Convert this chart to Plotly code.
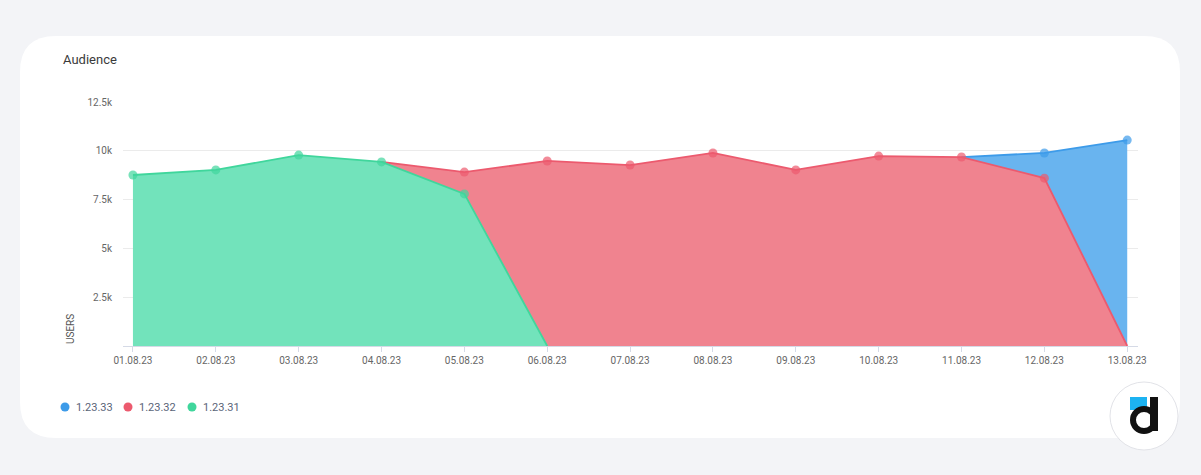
import plotly.graph_objects as go

dates = ["01.08.23", "02.08.23", "03.08.23", "04.08.23", "05.08.23", "06.08.23", "07.08.23",
         "08.08.23", "09.08.23", "10.08.23", "11.08.23", "12.08.23", "13.08.23"]
v1_23_33 = [None, None, None, None, None, None, None, None, None, None, 9680, 9890, 10550]
v1_23_32 = [None, None, None, 9430, 8910, 9480, 9270, 9890, 9020, 9730, 9680, 8600, 0]
v1_23_31 = [8760, 9020, 9780, 9430, 7790, 0, None, None, None, None, None, None, None]
series_names = ["1.23.33", "1.23.32", "1.23.31"]
y_tickvals = [2500, 5000, 7500, 10000, 12500]
y_ticktext = ["2.5k", "5k", "7.5k", "10k", "12.5k"]

W, H = 1201, 475
L, R, T, B = 123, 63, 102, 129
PW, PH = W - L - R, H - T - B


def px(x):
    return (x - L) / PW


def py(y):
    return (H - B - y) / PH


series = [
    (series_names[0], v1_23_33, "#3d9be9", "#69b4ef"),
    (series_names[1], v1_23_32, "#ec5a6e", "#f0838f"),
    (series_names[2], v1_23_31, "#40d69c", "#72e3bb"),
]

fig = go.Figure()
for i, (name, vals, lc, fc) in enumerate(series):
    later = [s[1] for s in series[i + 1:]]
    sizes = []
    for j, v in enumerate(vals):
        covered = any(lv[j] is not None and lv[j] == v for lv in later)
        sizes.append(0 if (v == 0 or covered) else 9)
    fig.add_trace(go.Scatter(
        x=dates, y=vals, name=name, mode="lines+markers",
        line=dict(color=lc, width=1.8), fill="tozeroy", fillcolor=fc,
        marker=dict(color=lc, size=sizes, line=dict(width=0)), connectgaps=False,
        showlegend=False, hoverinfo="skip",
    ))

shapes = []
# card with rounded corners
cx0, cy0, cx1, cy1, r = 20, 36, 1180, 438, 36
path = (f"M {px(cx0 + r)},{py(cy0)} L {px(cx1 - r)},{py(cy0)} "
        f"Q {px(cx1)},{py(cy0)} {px(cx1)},{py(cy0 + r)} "
        f"L {px(cx1)},{py(cy1 - r)} Q {px(cx1)},{py(cy1)} {px(cx1 - r)},{py(cy1)} "
        f"L {px(cx0 + r)},{py(cy1)} Q {px(cx0)},{py(cy1)} {px(cx0)},{py(cy1 - r)} "
        f"L {px(cx0)},{py(cy0 + r)} Q {px(cx0)},{py(cy0)} {px(cx0 + r)},{py(cy0)} Z")
shapes.append(dict(type="path", path=path, xref="paper", yref="paper",
                   fillcolor="#ffffff", line=dict(width=0), layer="below"))

# legend circles
leg_x = [65, 128, 192]
for (name, vals, lc, fc), lx in zip(series, leg_x):
    shapes.append(dict(type="circle", xref="paper", yref="paper",
                       xsizemode="pixel", ysizemode="pixel",
                       xanchor=px(lx), yanchor=py(407),
                       x0=-4.5, x1=4.5, y0=-4.5, y1=4.5,
                       fillcolor=lc, line=dict(width=0)))

# logo
shapes.append(dict(type="circle", xref="paper", yref="paper",
                   xsizemode="pixel", ysizemode="pixel",
                   xanchor=px(1144), yanchor=py(416),
                   x0=-34, x1=34, y0=-34, y1=34,
                   fillcolor="#ffffff", line=dict(width=1, color="#e2e3e8")))
shapes.append(dict(type="rect", xref="paper", yref="paper",
                   x0=px(1130), x1=px(1147), y0=py(410), y1=py(397),
                   fillcolor="#1db3f2", line=dict(width=0)))
shapes.append(dict(type="circle", xref="paper", yref="paper",
                   xsizemode="pixel", ysizemode="pixel",
                   xanchor=px(1144), yanchor=py(420),
                   x0=-11, x1=11, y0=-11, y1=11,
                   fillcolor="#ffffff", line=dict(width=6, color="#111111")))
shapes.append(dict(type="rect", xref="paper", yref="paper",
                   x0=px(1150), x1=px(1158), y0=py(431), y1=py(397),
                   fillcolor="#111111", line=dict(width=0)))

annotations = [
    dict(text="Audience", x=px(61), y=py(60), xref="paper", yref="paper",
         xanchor="left", yanchor="middle", showarrow=False,
         font=dict(size=13, color="#3a3a3a")),
    dict(text="USERS", x=px(70), y=py(346), xref="paper", yref="paper",
         xanchor="center", yanchor="bottom", textangle=-90, showarrow=False,
         font=dict(size=10, color="#555555")),
]
for name, lx in zip(series_names, leg_x):
    annotations.append(dict(text=name, x=px(lx + 9), y=py(407), xref="paper", yref="paper",
                            xanchor="left", yanchor="middle", showarrow=False,
                            font=dict(size=11, color="#5a6478")))

fig.update_layout(
    width=W, height=H,
    margin=dict(l=L, r=R, t=T, b=B),
    paper_bgcolor="#f3f4f7", plot_bgcolor="rgba(0,0,0,0)",
    font=dict(family="Roboto, sans-serif"),
    shapes=shapes, annotations=annotations,
    xaxis=dict(type="category", range=[-0.12, 12.13], showgrid=False,
               showline=True, linecolor="#d5dae6", linewidth=1,
               ticks="outside", ticklen=5, tickcolor="#d5dae6",
               tickfont=dict(size=10, color="#666666"), zeroline=False),
    yaxis=dict(range=[0, 12500], tickvals=y_tickvals, ticktext=y_ticktext,
               showgrid=True, gridcolor="#ebebeb", gridwidth=1, zeroline=False,
               tickfont=dict(size=10, color="#666666"), ticklabelstandoff=10),
)

fig.write_html("out.html")
